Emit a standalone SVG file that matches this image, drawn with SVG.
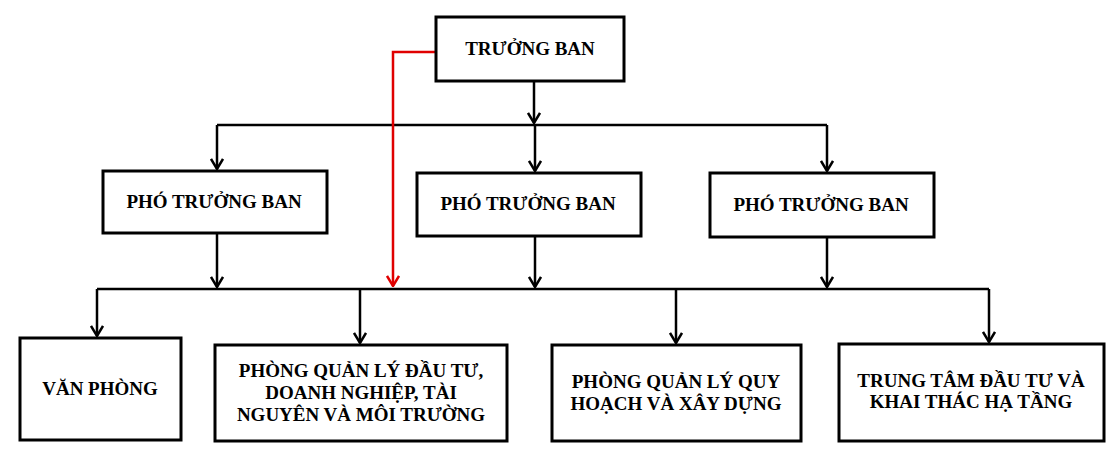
<svg xmlns="http://www.w3.org/2000/svg" width="1120" height="467" viewBox="0 0 1120 467">
<style>
.box{fill:#fff;stroke:#000;stroke-width:3}
.t{font-family:"Liberation Serif","Times New Roman",serif;font-weight:bold;font-size:19px;fill:#000;text-anchor:middle}
.c{fill:none;stroke:#000;stroke-width:2.5}
.r{fill:none;stroke:#e00000;stroke-width:2.5}
</style>
<defs>
<marker id="ah" viewBox="0 0 12 14" refX="11" refY="7" markerWidth="12" markerHeight="14" markerUnits="userSpaceOnUse" orient="auto">
<path d="M1,1 L11,7 L1,13" fill="none" stroke="#000" stroke-width="2.5"/>
</marker>
<marker id="ahr" viewBox="0 0 12 14" refX="11" refY="7" markerWidth="12" markerHeight="14" markerUnits="userSpaceOnUse" orient="auto">
<path d="M1,1 L11,7 L1,13" fill="none" stroke="#e00000" stroke-width="2.5"/>
</marker>
</defs>
<rect width="1120" height="467" fill="#fff"/>
<g id="connectors">
<path class="c" d="M534,82 V123" marker-end="url(#ah)"/>
<path class="c" d="M217,125 H827"/>
<path class="c" d="M217,125 V169" marker-end="url(#ah)"/>
<path class="c" d="M535,125 V171" marker-end="url(#ah)"/>
<path class="c" d="M827,125 V171" marker-end="url(#ah)"/>
<path class="c" d="M217,234 V287" marker-end="url(#ah)"/>
<path class="c" d="M535,237 V287" marker-end="url(#ah)"/>
<path class="c" d="M827,238 V287" marker-end="url(#ah)"/>
<path class="c" d="M97,289 H989"/>
<path class="c" d="M97,289 V336" marker-end="url(#ah)"/>
<path class="c" d="M360,289 V343" marker-end="url(#ah)"/>
<path class="c" d="M676,289 V343" marker-end="url(#ah)"/>
<path class="c" d="M989,289 V342" marker-end="url(#ah)"/>
<path class="r" d="M436,52 H393 V286" marker-end="url(#ahr)"/>
</g>
<g id="truong-ban">
<rect class="box" x="436" y="17" width="188" height="64"/>
<text class="t" x="530" y="55">TRƯỞNG BAN</text>
</g>
<g id="pho-truong-ban-1">
<rect class="box" x="103" y="171" width="224" height="62"/>
<text class="t" x="214" y="208">PHÓ TRƯỞNG BAN</text>
</g>
<g id="pho-truong-ban-2">
<rect class="box" x="417" y="173" width="224" height="63"/>
<text class="t" x="528" y="210">PHÓ TRƯỞNG BAN</text>
</g>
<g id="pho-truong-ban-3">
<rect class="box" x="710" y="173" width="224" height="64"/>
<text class="t" x="821" y="211">PHÓ TRƯỞNG BAN</text>
</g>
<g id="van-phong">
<rect class="box" x="20" y="338" width="161" height="102"/>
<text class="t" x="100" y="395">VĂN PHÒNG</text>
</g>
<g id="phong-dau-tu">
<rect class="box" x="215" y="345" width="292" height="96"/>
<text class="t" x="361" y="377">PHÒNG QUẢN LÝ ĐẦU TƯ,</text>
<text class="t" x="361" y="399">DOANH NGHIỆP, TÀI</text>
<text class="t" x="361" y="421">NGUYÊN VÀ MÔI TRƯỜNG</text>
</g>
<g id="phong-quy-hoach">
<rect class="box" x="552" y="345" width="249" height="96"/>
<text class="t" x="676" y="388">PHÒNG QUẢN LÝ QUY</text>
<text class="t" x="676" y="410">HOẠCH VÀ XÂY DỰNG</text>
</g>
<g id="trung-tam">
<rect class="box" x="839" y="344" width="265" height="97"/>
<text class="t" x="971" y="387">TRUNG TÂM ĐẦU TƯ VÀ</text>
<text class="t" x="971" y="408">KHAI THÁC HẠ TẦNG</text>
</g>
</svg>
